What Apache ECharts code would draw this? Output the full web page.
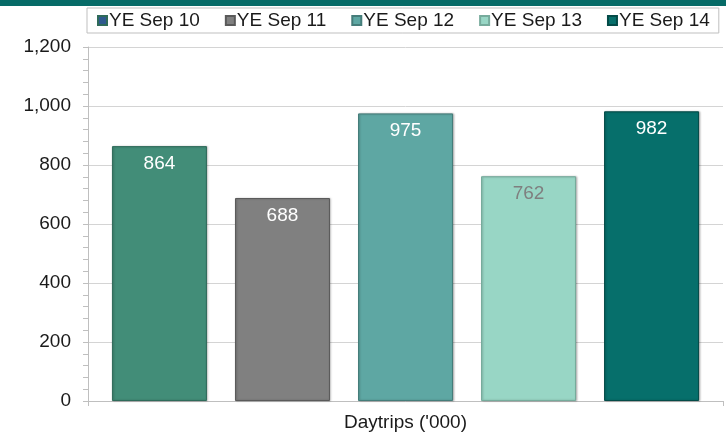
<!DOCTYPE html>
<html>
<head>
<meta charset="utf-8">
<script src="https://cdn.jsdelivr.net/npm/echarts@6/dist/echarts.min.js"></script>
<style>
    html, body { margin: 0; padding: 0; background: #fff; }
    #chart { width: 726px; height: 433px; }
</style>
</head>
<body>
<div id="chart"></div>
<script>
    const categories = ["Daytrips ('000)"]
    const seriesNames = ['YE Sep 10', 'YE Sep 11', 'YE Sep 12', 'YE Sep 13', 'YE Sep 14']
    const seriesValues = [864, 688, 975, 762, 982]
    const barColors = ['#428d78', '#808080', '#5ea7a3', '#98d6c5', '#066f6b']
    const borderColors = ['#2f6b5a', '#5a5a5a', '#457d7a', '#76ab9c', '#044b48']
    const labelColors = ['#ffffff', '#ffffff', '#ffffff', '#7f7f7f', '#ffffff']
    const legendColors = ['#2f5a8f', '#808080', '#5ea7a3', '#98d6c5', '#066f6b']

    const font = 'Liberation Sans, Arial, sans-serif'

    let myChart = echarts.init(document.getElementById('chart'))

    let series = []
    for (let i = 0; i < seriesNames.length; i++) {
        series.push({
            name: seriesNames[i],
            type: 'bar',
            data: [seriesValues[i]],
            barWidth: 95,
            barGap: '29.5%',
            itemStyle: {
                color: barColors[i],
                borderColor: borderColors[i],
                borderWidth: 1,
                shadowColor: 'rgba(0,0,0,0.25)',
                shadowBlur: 2,
                shadowOffsetX: 1
            },
            label: {
                show: true,
                position: 'insideTop',
                distance: 8,
                color: labelColors[i],
                fontSize: 19,
                fontFamily: font
            }
        })
    }

    let legendData = []
    for (let i = 0; i < seriesNames.length; i++) {
        legendData.push({ name: seriesNames[i], itemStyle: { color: legendColors[i] } })
    }

    let option = {
        animation: false,
        graphic: [
            {
                type: 'rect',
                shape: { x: 0, y: 0, width: 726, height: 6 },
                style: { fill: '#066b67' }
            }
        ],
        legend: {
            data: legendData,
            left: 87,
            top: 8,
            width: 680,
            padding: [3, 9, 3, 10],
            borderColor: '#bfbfbf',
            borderWidth: 1,
            icon: 'rect',
            itemWidth: 9,
            itemHeight: 9,
            itemGap: 25,
            textStyle: {
                fontSize: 19,
                fontFamily: font,
                color: '#1a1a1a',
                padding: [0, 0, 0, -3]
            }
        },
        grid: {
            left: 88,
            right: 3,
            top: 47,
            bottom: 32
        },
        xAxis: {
            type: 'category',
            data: categories,
            axisLine: { lineStyle: { color: '#bfbfbf' } },
            axisTick: { show: true, length: 5, lineStyle: { color: '#bfbfbf' } },
            axisLabel: {
                margin: 12,
                fontSize: 19,
                fontFamily: font,
                color: '#1a1a1a'
            }
        },
        yAxis: {
            type: 'value',
            min: 0,
            max: 1200,
            interval: 200,
            axisLine: { show: true, lineStyle: { color: '#bfbfbf' } },
            axisTick: { show: true, length: 5, lineStyle: { color: '#bfbfbf' } },
            minorTick: { show: true, splitNumber: 5, length: 5, lineStyle: { color: '#bfbfbf' } },
            splitLine: { lineStyle: { color: '#d4d4d4' } },
            axisLabel: {
                margin: 17,
                fontSize: 19,
                fontFamily: font,
                color: '#1a1a1a',
                formatter: function (v) { return v.toLocaleString('en-US') }
            }
        },
        series: series
    }

    myChart.setOption(option)
</script>
</body>
</html>
